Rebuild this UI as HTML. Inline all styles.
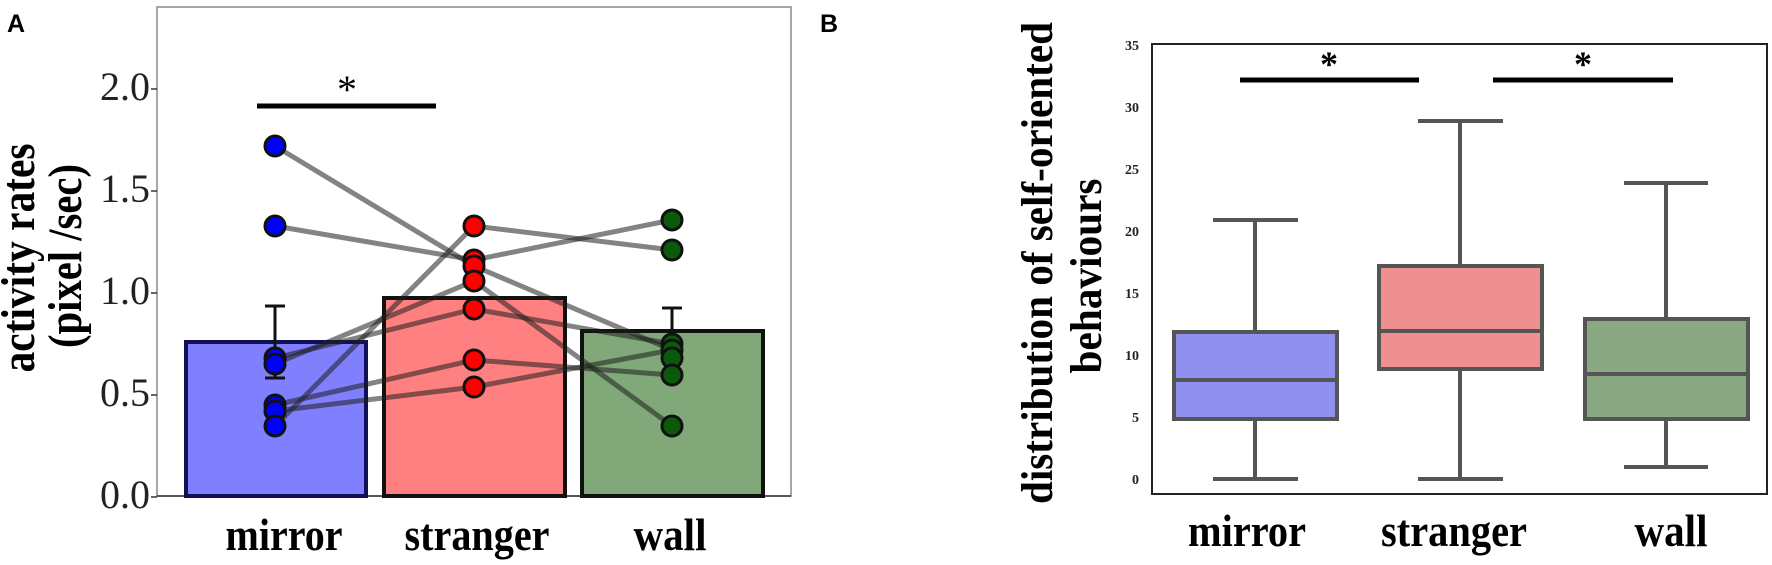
<!DOCTYPE html>
<html><head><meta charset="utf-8"><style>
html,body{margin:0;padding:0;background:#fff;}
svg{display:block;}
.s{font-family:"Liberation Serif",serif;}
</style></head><body>
<svg width="1772" height="565" viewBox="0 0 1772 565" xmlns="http://www.w3.org/2000/svg">
<!-- Panel A -->
<text x="7" y="32" font-family="Liberation Sans,sans-serif" font-weight="bold" font-size="25">A</text>
<rect x="157" y="7" width="634" height="489" fill="none" stroke="#888" stroke-width="1.5"/>
<line x1="157" y1="496" x2="791" y2="496" stroke="#333" stroke-width="1.5"/>
<g class="s" font-size="40" text-anchor="end" fill="#222">
<text x="150" y="508">0.0</text>
<text x="150" y="406">0.5</text>
<text x="150" y="304">1.0</text>
<text x="150" y="202">1.5</text>
<text x="150" y="100">2.0</text>
</g>
<g stroke="#333" stroke-width="1.5">
<line x1="151" y1="497" x2="157" y2="497"/><line x1="151" y1="395" x2="157" y2="395"/>
<line x1="151" y1="293" x2="157" y2="293"/><line x1="151" y1="191" x2="157" y2="191"/>
<line x1="151" y1="89" x2="157" y2="89"/>
</g>
<!-- bars -->
<rect x="186" y="342" width="180" height="154" fill="#8080ff" stroke="#111155" stroke-width="4"/>
<rect x="384" y="298" width="181" height="198" fill="#ff8080" stroke="#111" stroke-width="4"/>
<rect x="582" y="331" width="181" height="165" fill="#80a878" stroke="#111" stroke-width="4"/>
<!-- error bars -->
<g stroke="#111" stroke-width="3">
<line x1="275" y1="306" x2="275" y2="378"/><line x1="265" y1="306" x2="285" y2="306"/><line x1="265" y1="378" x2="285" y2="378"/>
<line x1="672" y1="308" x2="672" y2="331"/><line x1="662" y1="308" x2="682" y2="308"/>
</g>
<!-- connecting lines -->
<g stroke="rgba(30,30,30,0.55)" stroke-width="5" fill="none">
<polyline points="275,146 474,266 672,350"/>
<polyline points="275,226 474,260 672,220"/>
<polyline points="275,426 474,226 672,250"/>
<polyline points="275,358 474,309 672,344"/>
<polyline points="275,364 474,281 672,426"/>
<polyline points="275,405 474,360 672,375"/>
<polyline points="275,411 474,387 672,350"/>
</g>
<!-- dots -->
<g stroke="#111" stroke-width="3">
<g fill="#0000ff">
<circle cx="275" cy="146" r="10"/><circle cx="275" cy="226" r="10"/><circle cx="275" cy="358" r="10"/>
<circle cx="275" cy="364" r="10"/><circle cx="275" cy="405" r="10"/><circle cx="275" cy="411" r="10"/>
<circle cx="275" cy="426" r="10"/></g>
<g fill="#ff0000">
<circle cx="474" cy="226" r="10"/><circle cx="474" cy="260" r="10"/><circle cx="474" cy="266" r="10"/>
<circle cx="474" cy="281" r="10"/><circle cx="474" cy="309" r="10"/><circle cx="474" cy="360" r="10"/>
<circle cx="474" cy="387" r="10"/></g>
<g fill="#0b5a0b">
<circle cx="672" cy="220" r="10"/><circle cx="672" cy="250" r="10"/><circle cx="672" cy="344" r="10"/>
<circle cx="672" cy="350" r="10"/><circle cx="672" cy="358" r="10"/><circle cx="672" cy="375" r="10"/>
<circle cx="672" cy="426" r="10"/></g>
</g>
<line x1="257" y1="106" x2="436" y2="106" stroke="#000" stroke-width="5"/>
<text x="347" y="103" class="s" font-size="40" text-anchor="middle">*</text>
<g class="s" font-weight="bold" font-size="46" text-anchor="middle">
<text x="284" y="550" textLength="117" lengthAdjust="spacingAndGlyphs">mirror</text>
<text x="477" y="550" textLength="145" lengthAdjust="spacingAndGlyphs">stranger</text>
<text x="670" y="550" textLength="73" lengthAdjust="spacingAndGlyphs">wall</text>
</g>
<g class="s" font-weight="bold" font-size="48" text-anchor="middle">
<text transform="translate(34,258) rotate(-90)" textLength="229" lengthAdjust="spacingAndGlyphs">activity rates</text>
<text transform="translate(81,256) rotate(-90)" textLength="184" lengthAdjust="spacingAndGlyphs">(pixel /sec)</text>
</g>

<!-- Panel B -->
<text x="820" y="32" font-family="Liberation Sans,sans-serif" font-weight="bold" font-size="25">B</text>
<rect x="1152" y="44" width="615" height="450" fill="none" stroke="#222" stroke-width="2"/>
<g class="s" font-weight="bold" font-size="14" text-anchor="end" fill="#222">
<text x="1139" y="50">35</text><text x="1139" y="112">30</text><text x="1139" y="174">25</text>
<text x="1139" y="236">20</text><text x="1139" y="298">15</text><text x="1139" y="360">10</text>
<text x="1139" y="422">5</text><text x="1139" y="484">0</text>
</g>
<g stroke="#555" stroke-width="4">
<line x1="1255" y1="220" x2="1255" y2="332"/><line x1="1255" y1="419" x2="1255" y2="479"/>
<line x1="1213" y1="220" x2="1298" y2="220"/><line x1="1213" y1="479" x2="1298" y2="479"/>
<rect x="1174" y="332" width="163" height="87" fill="#9090ee"/>
<line x1="1174" y1="380" x2="1337" y2="380"/>
<line x1="1460" y1="121" x2="1460" y2="266"/><line x1="1460" y1="369" x2="1460" y2="479"/>
<line x1="1418" y1="121" x2="1503" y2="121"/><line x1="1418" y1="479" x2="1503" y2="479"/>
<rect x="1379" y="266" width="163" height="103" fill="#ee9090"/>
<line x1="1379" y1="331" x2="1542" y2="331"/>
<line x1="1666" y1="183" x2="1666" y2="319"/><line x1="1666" y1="419" x2="1666" y2="467"/>
<line x1="1624" y1="183" x2="1708" y2="183"/><line x1="1624" y1="467" x2="1708" y2="467"/>
<rect x="1585" y="319" width="163" height="100" fill="#8aa882"/>
<line x1="1585" y1="374" x2="1748" y2="374"/>
</g>
<g stroke="#000" stroke-width="5">
<line x1="1240" y1="80" x2="1419" y2="80"/><line x1="1493" y1="80" x2="1673" y2="80"/>
</g>
<g class="s" font-weight="bold" font-size="36" text-anchor="middle">
<text x="1329" y="76">*</text><text x="1583" y="76">*</text>
</g>
<g class="s" font-weight="bold" font-size="46" text-anchor="middle">
<text x="1247" y="546" textLength="118" lengthAdjust="spacingAndGlyphs">mirror</text>
<text x="1454" y="546" textLength="146" lengthAdjust="spacingAndGlyphs">stranger</text>
<text x="1671" y="546" textLength="73" lengthAdjust="spacingAndGlyphs">wall</text>
</g>
<g class="s" font-weight="bold" font-size="44" text-anchor="middle">
<text transform="translate(1052,263) rotate(-90)" textLength="482" lengthAdjust="spacingAndGlyphs">distribution of self-oriented</text>
<text transform="translate(1101,276) rotate(-90)" textLength="195" lengthAdjust="spacingAndGlyphs">behaviours</text>
</g>
</svg>
</body></html>
